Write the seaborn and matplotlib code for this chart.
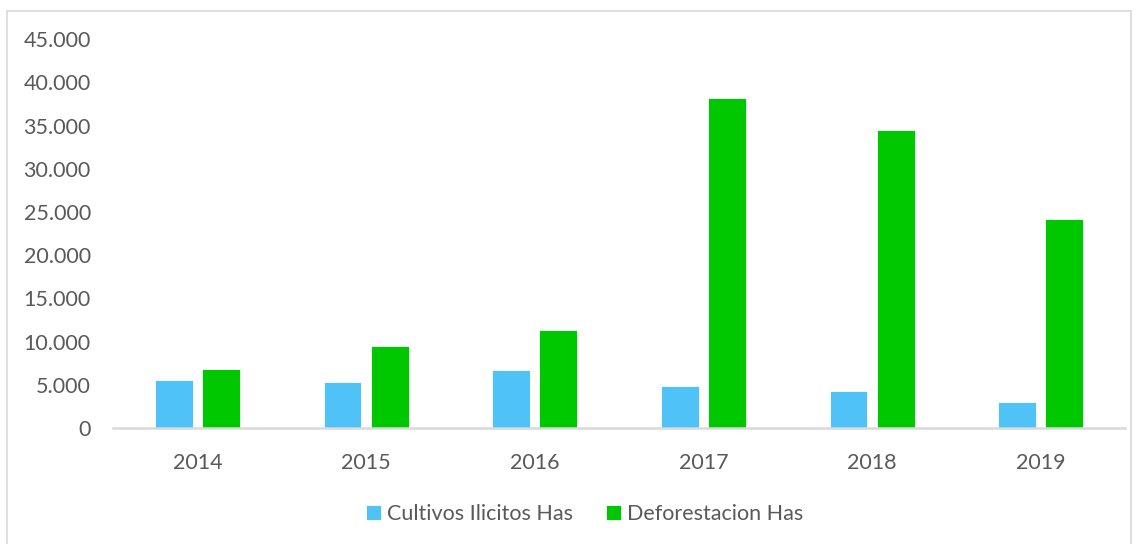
import pandas as pd
import matplotlib.pyplot as plt
import seaborn as sns
from matplotlib.ticker import FuncFormatter
from matplotlib.patches import Rectangle

years = ["2014", "2015", "2016", "2017", "2018", "2019"]
cultivos = [5550, 5320, 6710, 4860, 4230, 3000]
deforestacion = [6790, 9520, 11340, 38200, 34500, 24200]
series_names = ["Cultivos Ilicitos Has", "Deforestacion Has"]
colors = ["#4FC3F7", "#00C800"]

df = pd.DataFrame({"year": years, series_names[0]: cultivos, series_names[1]: deforestacion})
long_df = df.melt(id_vars="year", var_name="serie", value_name="has")

sns.set_theme(style="white")
plt.rcParams["font.family"] = ["Lato", "DejaVu Sans"]
text_color = "#595959"

fig = plt.figure(figsize=(11.38, 5.44), dpi=100)
ax = fig.add_axes([0.0993, 0.2132, 0.8893, 0.7148])

sns.barplot(data=long_df, x="year", y="has", hue="serie", palette=colors, saturation=1,
            width=0.56, gap=0.2, edgecolor="white", linewidth=0.6, ax=ax)

ax.set_ylim(0, 45000)
ax.set_yticks(range(0, 45001, 5000))
ax.yaxis.set_major_formatter(FuncFormatter(lambda v, p: f"{int(v):,}".replace(",", ".")))
ax.set_xlim(-0.5, len(years) - 0.5)
ax.set_xlabel("")
ax.set_ylabel("")
for s in ["top", "right", "left"]:
    ax.spines[s].set_visible(False)
ax.spines["bottom"].set_color("#D9D9D9")
ax.spines["bottom"].set_linewidth(1.8)
ax.tick_params(axis="y", length=0, pad=16, labelsize=15.5, labelcolor=text_color)
ax.tick_params(axis="x", length=0, pad=18, labelsize=15.5, labelcolor=text_color)

ax.legend(loc="upper center", bbox_to_anchor=(0.466, -0.145), ncol=2, frameon=False,
          fontsize=15.5, labelcolor=text_color, handlelength=0.7, handleheight=0.7,
          handletextpad=0.3, columnspacing=1.5)

fig.patches.append(Rectangle((0.006, -0.01), 0.988, 0.99, transform=fig.transFigure,
                             fill=False, edgecolor="#D9D9D9", linewidth=1.2))

plt.savefig("out.png", dpi=100)
